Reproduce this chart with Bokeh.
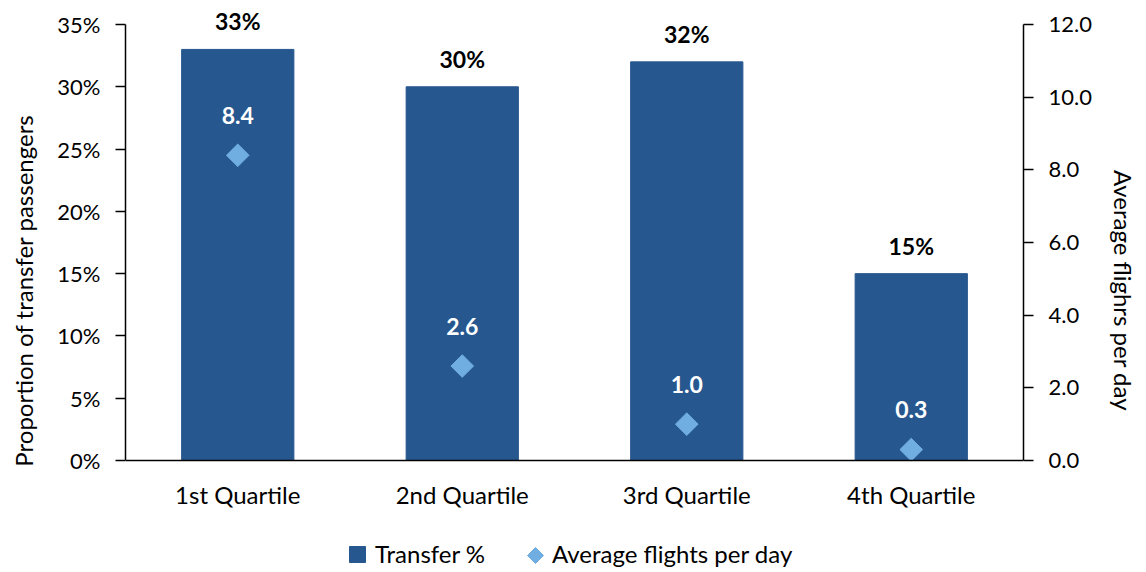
from bokeh.plotting import figure
from bokeh.models import (Range1d, FactorRange, LinearAxis, FixedTicker, PrintfTickFormatter,
                          ColumnDataSource, Legend, LegendItem, PolyAnnotation)
from bokeh.core.properties import value
from bokeh.embed import file_html
from bokeh.resources import INLINE
import math

categories = ["1st Quartile", "2nd Quartile", "3rd Quartile", "4th Quartile"]
transfer_pct = [33, 30, 32, 15]
avg_flights = [8.4, 2.6, 1.0, 0.3]
transfer_labels = ["33%", "30%", "32%", "15%"]
flight_labels = ["8.4", "2.6", "1.0", "0.3"]
left_ticks = [0, 5, 10, 15, 20, 25, 30, 35]
right_ticks = [0, 2, 4, 6, 8, 10, 12]

FONT = "Lato"
BAR = "#27578F"
DIA = "#70AEE1"
TXT = "black"

W, H = 1140, 570
F_LEFT, F_RIGHT, F_TOP, ZERO_Y, TOP_Y = 125, 1027, 10, 460, 24
px_l = (ZERO_Y - TOP_Y) / 35.0
px_r = (ZERO_Y - TOP_Y) / 12.0

p = figure(width=W, height=H, x_range=FactorRange(*categories, range_padding=0),
           y_range=Range1d(-(H - ZERO_Y) / px_l, 35 + (TOP_Y - F_TOP) / px_l),
           output_backend="svg", toolbar_location=None,
           min_border_left=F_LEFT, min_border_right=W - F_RIGHT, min_border_top=F_TOP,
           min_border_bottom=0)
p.extra_y_ranges = {"right": Range1d(-(H - ZERO_Y) / px_r, 12 + (TOP_Y - F_TOP) / px_r)}
p.outline_line_color = None
p.grid.grid_line_color = None

src = ColumnDataSource(dict(cat=categories, pct=transfer_pct, fl=avg_flights,
                            pl=transfer_labels, fll=flight_labels))

bars = p.vbar(x="cat", top="pct", width=0.5, source=src, fill_color=BAR, line_color=BAR)
dias = p.scatter(x="cat", y="fl", y_range_name="right", source=src, marker="square",
                 angle=math.pi / 4, size=16, fill_color=DIA, line_color=DIA)

p.text(x="cat", y="pct", text="pl", source=src, text_align="center", text_baseline="middle",
       y_offset=-28, text_font=value(FONT), text_font_size="23px", text_font_style="bold",
       text_color=TXT)
p.text(x="cat", y="fl", text="fll", source=src, y_range_name="right", text_align="center",
       text_baseline="middle", y_offset=-40, text_font=value(FONT), text_font_size="23px",
       text_font_style="bold", text_color="white")

def style_y(ax, label, standoff):
    ax.axis_label = label
    ax.axis_label_text_font = FONT
    ax.axis_label_text_font_size = "24px"
    ax.axis_label_text_font_style = "normal"
    ax.axis_label_text_color = TXT
    ax.axis_label_standoff = standoff
    ax.major_label_text_font = FONT
    ax.major_label_text_font_size = "22px"
    ax.major_label_text_color = TXT
    ax.major_tick_out = 10
    ax.major_tick_in = 0
    ax.minor_tick_line_color = None
    ax.major_label_standoff = 15
    ax.axis_line_width = 1.5
    ax.axis_line_color = TXT
    ax.major_tick_line_width = 1.5
    ax.major_tick_line_color = TXT

# left axis
ya = p.yaxis[0]
ya.ticker = FixedTicker(ticks=left_ticks)
ya.formatter = PrintfTickFormatter(format="%d%%")
ya.bounds = (0, 35)
style_y(ya, "Proportion of transfer passengers", 16)

# right axis
ra = LinearAxis(y_range_name="right", ticker=FixedTicker(ticks=right_ticks),
                formatter=PrintfTickFormatter(format="%.1f"), bounds=(0, 12))
style_y(ra, "Average flighrs per day", 14)
p.add_layout(ra, "right")

# bottom axis, drawn at y = 0
xa = p.xaxis[0]
xa.fixed_location = 0
xa.major_tick_line_color = None
xa.major_label_text_font = FONT
xa.major_label_text_font_size = "24px"
xa.major_label_text_color = TXT
xa.major_label_standoff = 13
xa.axis_line_width = 1.5
xa.axis_line_color = TXT

# legend
leg1 = Legend(items=[LegendItem(label="Transfer %", renderers=[bars])],
              location=(347 - F_LEFT, 2), orientation="horizontal",
              glyph_width=20, glyph_height=20, label_standoff=8,
              padding=0, margin=0, border_line_color=None, background_fill_alpha=0,
              label_text_font=FONT, label_text_font_size="24px", label_height=22,
              label_text_color=TXT)
# proxy renderer for the second legend entry (its key is drawn as a rotated square below)
proxy = p.scatter(x=[], y=[], marker="square", fill_alpha=0, line_alpha=0)
leg2 = Legend(items=[LegendItem(label="Average flights per day", renderers=[proxy])],
              location=(527 - F_LEFT, 2), orientation="horizontal",
              glyph_width=16, glyph_height=20, label_standoff=9,
              padding=0, margin=0, border_line_color=None, background_fill_alpha=0,
              label_text_font=FONT, label_text_font_size="24px", label_height=22,
              label_text_color=TXT)
p.add_layout(leg1, "center")
p.add_layout(leg2, "center")
# legend key: screen units relative to the frame's bottom-left corner
kx, ky, kr = 535 - F_LEFT, H - 555, 8
key = PolyAnnotation(xs=[kx - kr, kx, kx + kr, kx], ys=[ky, ky + kr, ky, ky - kr],
                     xs_units="screen", ys_units="screen",
                     fill_color=DIA, fill_alpha=1, line_color=DIA, line_alpha=1)
p.add_layout(key)

open("out.html", "w").write(file_html(p, INLINE))
